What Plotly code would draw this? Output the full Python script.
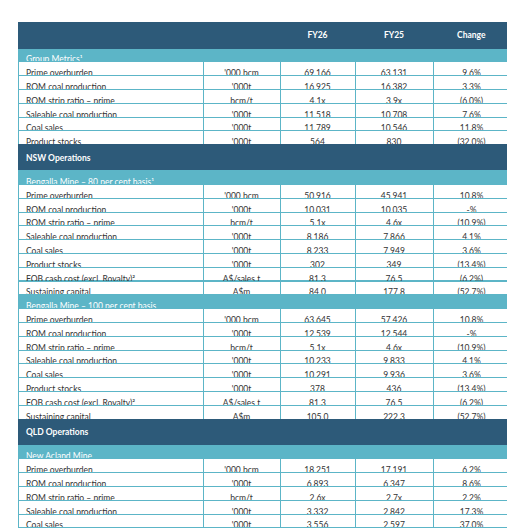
import plotly.graph_objects as go

NAVY = "#2d5a79"
TEAL = "#5cb5c7"

header = ["", "", "FY26", "FY25", "Change"]
# (label, unit, fy26, fy25, change, kind) kind: d=data, n=navy section, t=teal section
rows = [
    ("Group Metrics¹", "", "", "", "", "t"),
    ("Prime overburden", "'000 bcm", "69,166", "63,131", "9.6%", "d"),
    ("ROM coal production", "'000t", "16,925", "16,382", "3.3%", "d"),
    ("ROM strip ratio – prime", "bcm/t", "4.1x", "3.9x", "(6.0%)", "d"),
    ("Saleable coal production", "'000t", "11,518", "10,708", "7.6%", "d"),
    ("Coal sales", "'000t", "11,789", "10,546", "11.8%", "d"),
    ("Product stocks", "'000t", "564", "830", "(32.0%)", "d"),
    ("NSW Operations", "", "", "", "", "n"),
    ("Bengalla Mine – 80 per cent basis¹", "", "", "", "", "t"),
    ("Prime overburden", "'000 bcm", "50,916", "45,941", "10.8%", "d"),
    ("ROM coal production", "'000t", "10,031", "10,035", "-%", "d"),
    ("ROM strip ratio – prime", "bcm/t", "5.1x", "4.6x", "(10.9%)", "d"),
    ("Saleable coal production", "'000t", "8,186", "7,866", "4.1%", "d"),
    ("Coal sales", "'000t", "8,233", "7,949", "3.6%", "d"),
    ("Product stocks", "'000t", "302", "349", "(13.4%)", "d"),
    ("FOB cash cost (excl. Royalty)²", "A$/sales t", "81.3", "76.5", "(6.2%)", "d"),
    ("Sustaining capital", "A$m", "84.0", "177.8", "(52.7%)", "d"),
    ("Bengalla Mine – 100 per cent basis", "", "", "", "", "t"),
    ("Prime overburden", "'000 bcm", "63,645", "57,426", "10.8%", "d"),
    ("ROM coal production", "'000t", "12,539", "12,544", "-%", "d"),
    ("ROM strip ratio – prime", "bcm/t", "5.1x", "4.6x", "(10.9%)", "d"),
    ("Saleable coal production", "'000t", "10,233", "9,833", "4.1%", "d"),
    ("Coal sales", "'000t", "10,291", "9,936", "3.6%", "d"),
    ("Product stocks", "'000t", "378", "436", "(13.4%)", "d"),
    ("FOB cash cost (excl. Royalty)²", "A$/sales t", "81.3", "76.5", "(6.2%)", "d"),
    ("Sustaining capital", "A$m", "105.0", "222.3", "(52.7%)", "d"),
    ("QLD Operations", "", "", "", "", "n"),
    ("New Acland Mine", "", "", "", "", "t"),
    ("Prime overburden", "'000 bcm", "18,251", "17,191", "6.2%", "d"),
    ("ROM coal production", "'000t", "6,893", "6,347", "8.6%", "d"),
    ("ROM strip ratio – prime", "bcm/t", "2.6x", "2.7x", "2.2%", "d"),
    ("Saleable coal production", "'000t", "3,332", "2,842", "17.3%", "d"),
    ("Coal sales", "'000t", "3,556", "2,597", "37.0%", "d"),
    ("Product stocks", "'000t", "262", "481", "(45.4%)", "d"),
    ("QBH", "", "", "", "", "t"),
    ("Export throughput", "'000t", "5,779", "5,157", "12.1%", "d"),
]

labels = [r[0] for r in rows]
units = [r[1] for r in rows]
fy26 = [r[2] for r in rows]
fy25 = [r[3] for r in rows]
change = [r[4] for r in rows]
kinds = [r[5] for r in rows]

fill = [NAVY if k == "n" else TEAL if k == "t" else "white" for k in kinds]
fcol = ["white" if k != "d" else "#333333" for k in kinds]
lab_txt = [("<b>%s</b>" % l) if k == "n" else l for l, k in zip(labels, kinds)]
linec = [NAVY if k == "n" else TEAL for k in kinds]

RH = 13.8
fig = go.Figure(go.Table(
    columnwidth=[185, 77, 75, 78, 77],
    header=dict(values=["<b>%s</b>" % h for h in header], fill_color=NAVY,
                line=dict(color=NAVY, width=1),
                font=dict(color="white", size=8.5, family="Lato"),
                align=["left", "center", "center", "center", "center"], height=RH),
    cells=dict(values=[lab_txt, units, fy26, fy25, change],
               fill_color=[fill] * 5,
               line=dict(color=[linec] * 5, width=1),
               font=dict(color=[fcol] * 5, size=8.5, family="Lato"),
               align=["left", "center", "center", "center", "center"], height=RH),
))
fig.update_layout(width=515, height=528, margin=dict(l=10, r=13, t=14, b=0),
                  paper_bgcolor="white")
fig.write_html("out.html")
